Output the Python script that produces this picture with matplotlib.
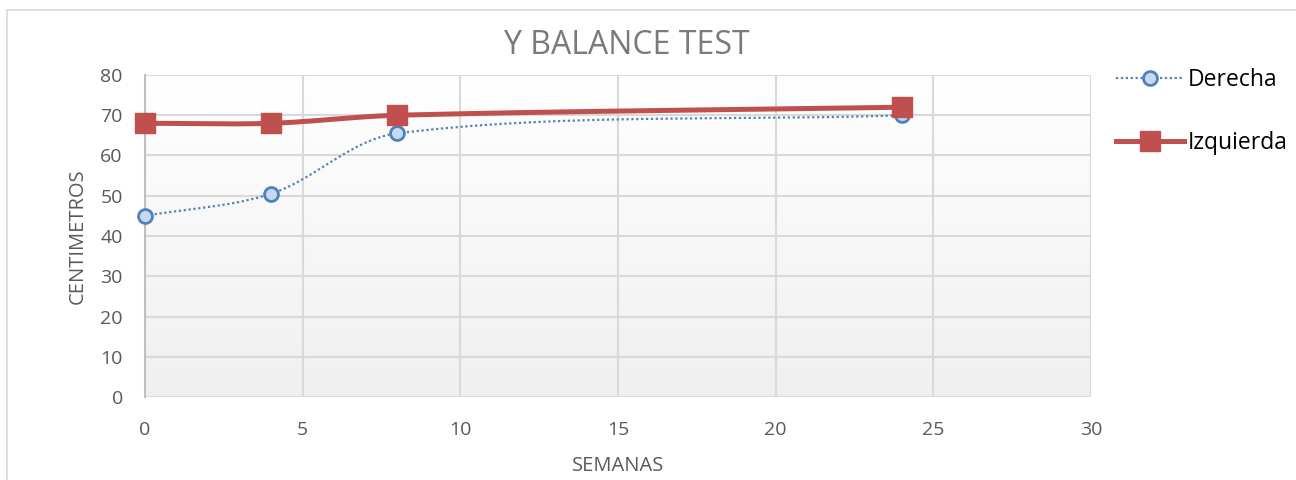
import numpy as np
import matplotlib
matplotlib.use("Agg")
import matplotlib.pyplot as plt
from matplotlib.patches import Rectangle

semanas = [0, 4, 8, 24]
derecha = [45, 50.5, 65.5, 70]
izquierda = [68, 68, 70, 72]

plt.rcParams['font.family'] = ['Open Sans', 'DejaVu Sans']

# axes box in pixels
AX_L, AX_B, AX_W, AX_H = 145, 83, 946, 322
XMAX, YMAX = 30, 80
SX, SY = AX_W / XMAX, AX_H / YMAX


def smooth(xs, ys, n=60):
    # Excel-like smoothed line, bezier with chord-weighted tangents in pixel space
    p = np.column_stack([np.array(xs) * SX, np.array(ys) * SY]).astype(float)
    m = len(p)
    tang = []
    for i in range(m):
        a = p[max(i - 1, 0)]
        b = p[min(i + 1, m - 1)]
        tang.append(b - a)
    d = np.linalg.norm(np.diff(p, axis=0), axis=1)
    out = []
    for i in range(m - 1):
        p1, p2 = p[i], p[i + 1]
        dl = d[i - 1] if i > 0 else 0
        dr = d[i + 1] if i + 1 < m - 1 else 0
        c1 = p1 + tang[i] * d[i] / (dl + d[i]) / 3.0
        c2 = p2 - tang[i + 1] * d[i] / (d[i] + dr) / 3.0
        t = np.linspace(0, 1, n)[:, None]
        seg = ((1 - t) ** 3) * p1 + 3 * ((1 - t) ** 2) * t * c1 + 3 * (1 - t) * t ** 2 * c2 + t ** 3 * p2
        out.append(seg)
    out = np.vstack(out)
    return out[:, 0] / SX, out[:, 1] / SY


fig = plt.figure(figsize=(12.96, 4.8), dpi=100)
fig.patches.append(Rectangle((7 / 1296, -0.1), 1.2, (470 / 480) + 0.1, transform=fig.transFigure,
                             fill=False, edgecolor='#d9d9d9', linewidth=1.2))

ax = fig.add_axes([AX_L / 1296, AX_B / 480, AX_W / 1296, AX_H / 480])
ax.set_xlim(0, XMAX)
ax.set_ylim(0, YMAX)

# background gradient
grad = np.linspace(1.0, 0.94, 256)[:, None]
ax.imshow(np.dstack([grad, grad, grad]), extent=[0, XMAX, 0, YMAX], aspect='auto', zorder=0)

ax.set_xticks(range(0, 31, 5))
ax.set_yticks(range(0, 81, 10))
ax.grid(True, color='#d9d9d9', linewidth=1.5, zorder=1)
ax.set_axisbelow(True)
for s in ['top', 'right', 'bottom']:
    ax.spines[s].set_visible(False)
ax.spines['left'].set_color('#bfbfbf')
ax.spines['left'].set_linewidth(1.5)
ax.tick_params(length=0, labelsize=14, colors='#595959')
ax.tick_params(axis='x', pad=17)
ax.tick_params(axis='y', pad=16)

sx, sy = smooth(semanas, derecha)
ax.plot(sx, sy, color='#4f81bd', linestyle=(0, (1, 1.2)), linewidth=1.6, zorder=3)
ax.plot(semanas, derecha, linestyle='none', marker='o', markersize=10, markerfacecolor='#c6d9f1',
        markeredgecolor='#4f81bd', markeredgewidth=2, zorder=4, clip_on=False)

sx, sy = smooth(semanas, izquierda)
ax.plot(sx, sy, color='#c0504d', linewidth=3.6, zorder=5, solid_capstyle='round')
ax.plot(semanas, izquierda, linestyle='none', marker='s', markersize=14, markerfacecolor='#c0504d',
        markeredgecolor='#c0504d', zorder=6, clip_on=False)

# legend handles
h1, = ax.plot([], [], color='#4f81bd', linestyle=(0, (1, 1.2)), linewidth=1.6, marker='o', markersize=10,
              markerfacecolor='#c6d9f1', markeredgecolor='#4f81bd', markeredgewidth=2)
h2, = ax.plot([], [], color='#c0504d', linewidth=3.6, marker='s', markersize=14,
              markerfacecolor='#c0504d', markeredgecolor='#c0504d')
fig.legend([h1, h2], ['Derecha', 'Izquierda'], loc='upper left', bbox_to_anchor=(1116 / 1296, 1 - 68 / 480),
           frameon=False, fontsize=16.5, handlelength=2.95, handletextpad=0.2, labelspacing=1.7,
           borderpad=0, borderaxespad=0)

fig.text(627 / 1296, 1 - 46 / 480, 'Y BALANCE TEST', ha='center', va='center', fontsize=23, color='#7a7a7a')
ax.set_xlabel('SEMANAS', fontsize=14.5, color='#595959')
ax.set_ylabel('CENTIMETROS', fontsize=14.5, color='#595959')
ax.xaxis.set_label_coords((618 - AX_L) / AX_W, (397 - 456) / AX_H)
ax.yaxis.set_label_coords((88 - AX_L) / AX_W, 0.5)

fig.savefig('out.png', dpi=100)
